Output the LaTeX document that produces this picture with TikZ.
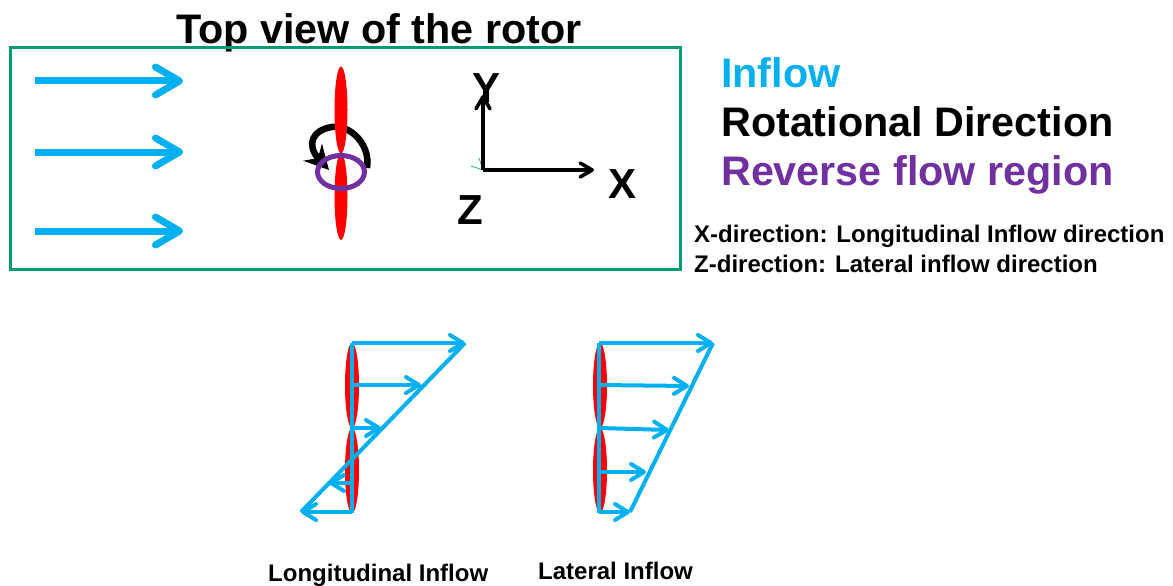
\documentclass[tikz,border=0pt]{standalone}
\usepackage{fontspec}
\setmainfont{Liberation Sans}
\usepackage{xcolor}
\usetikzlibrary{arrows.meta, positioning, shapes.geometric}
\definecolor{inflowblue}{RGB}{0,176,240}
\definecolor{regionpurple}{RGB}{112,48,160}
\definecolor{framegreen}{RGB}{0,155,115}

\begin{document}
\begin{tikzpicture}[
  x=1pt, y=-1pt,
  font=\bfseries,
  bigtext/.style={inner sep=0pt, anchor=base west, font=\fontsize{41.3}{42}\selectfont\bfseries},
  legend/.style={inner sep=0pt, anchor=base west, font=\fontsize{41.3}{42}\selectfont\bfseries},
  note/.style={inner sep=0pt, anchor=base west, font=\fontsize{24}{25}\selectfont\bfseries},
  axislabel/.style={inner sep=0pt, font=\fontsize{42}{42}\selectfont\bfseries},
  blade/.style={ellipse, fill=red, inner sep=0pt},
  inflowarr/.style={-{Straight Barb[round, length=24pt, width=28pt, line width=7pt]}, line width=7pt, inflowblue},
  profilearr/.style={-{Straight Barb[round, length=13pt, width=16pt, line width=4pt]}, line width=4pt, inflowblue},
  profileline/.style={line width=4pt, inflowblue},
  axisarr/.style={-{Straight Barb[round, length=12pt, width=14pt, line width=3.6pt]}, line width=3.6pt, black}
]
  \useasboundingbox (0,0) rectangle (1173,586);

  % top view
  \node[bigtext] (title) at (176,44) {Top view of the rotor};
  \node[draw=framegreen, line width=3.5pt, minimum width=670pt, minimum height=222pt, inner sep=0pt] (frame) at (345.5,158.5) {};

  \coordinate (inA) at (35,81);   \coordinate (inAend) at (183,81);
  \coordinate (inB) at (35,152);  \coordinate (inBend) at (183,152);
  \coordinate (inC) at (35,231);  \coordinate (inCend) at (183,231);
  \draw[inflowarr] (inA) -- (inAend);
  \draw[inflowarr] (inB) -- (inBend);
  \draw[inflowarr] (inC) -- (inCend);

  \coordinate (rotS) at (367,168);
  \coordinate (rotE) at (329,170);
  \draw[line width=6.5pt, -{Stealth[length=24pt, width=25pt]}] (rotS)
    .. controls (371,145) and (350,124) .. (332,127)
    .. controls (312,130) and (306,145) .. (rotE);
  \node[blade, minimum width=13pt, minimum height=87pt] (bladeN) at (341,110) {};
  \node[blade, minimum width=13pt, minimum height=87pt] (bladeS) at (341,196.5) {};
  \node[ellipse, draw=regionpurple, line width=5pt, minimum width=47pt, minimum height=33pt, inner sep=0pt] (region) at (341,172) {};

  % axes
  \coordinate (orig) at (483,170);
  \coordinate (xend) at (594,170);
  \coordinate (yend) at (483,95);
  \coordinate (tickA) at (471,166);
  \coordinate (tickB) at (479,158);
  \draw[framegreen!70!green, line width=0.7pt] (orig) -- (tickA) (orig) -- (tickB);
  \draw[axisarr] (orig) -- (xend);
  \draw[axisarr] (orig) -- (yend);
  \node[axislabel] (ylab) at (487,88) {Y};
  \node[axislabel] (xlab) at (622,184) {X};
  \node[axislabel] (zlab) at (470,210) {Z};

  % legend
  \node[legend, text=inflowblue] (lgA) at (721,88) {Inflow};
  \node[legend, text=black] (lgB) at (721,136) {Rotational Direction};
  \node[legend, text=regionpurple] (lgC) at (721,185) {Reverse flow region};
  \node[note] (noteX) at (694,242) {X-direction: Longitudinal Inflow direction};
  \node[note] (noteZ) at (694,272) {Z-direction: Lateral inflow direction};

  % longitudinal profile
  \node[blade, minimum width=14pt, minimum height=85pt] (lonN) at (352,385.5) {};
  \node[blade, minimum width=14pt, minimum height=85pt] (lonS) at (352,470.5) {};
  \coordinate (lonT) at (352,343);  \coordinate (lonB) at (352,513);
  \coordinate (lonA) at (352,343);  \coordinate (lonAend) at (465,343);
  \coordinate (lonC) at (352,385);  \coordinate (lonCend) at (421,385);
  \coordinate (lonD) at (352,428);  \coordinate (lonDend) at (381,428);
  \coordinate (lonE) at (352,483);  \coordinate (lonEend) at (329,483);
  \coordinate (lonF) at (352,512);  \coordinate (lonFend) at (301,512);
  \draw[profileline] (lonT) -- (lonB);
  \draw[profileline] (lonFend) -- (lonAend);
  \draw[profilearr] (lonA) -- (lonAend);
  \draw[profilearr] (lonC) -- (lonCend);
  \draw[profilearr] (lonD) -- (lonDend);
  \draw[profilearr] (lonE) -- (lonEend);
  \draw[profilearr] (lonF) -- (lonFend);

  % lateral profile
  \node[blade, minimum width=14pt, minimum height=85pt] (latN) at (600,385.5) {};
  \node[blade, minimum width=14pt, minimum height=85pt] (latS) at (600,470.5) {};
  \coordinate (latT) at (599,343);  \coordinate (latB) at (599,513);
  \coordinate (latA) at (599,343);  \coordinate (latAend) at (713,343);
  \coordinate (latC) at (599,385);  \coordinate (latCend) at (689,386);
  \coordinate (latD) at (599,428);  \coordinate (latDend) at (669,430);
  \coordinate (latE) at (599,472);  \coordinate (latEend) at (646,472);
  \coordinate (latF) at (599,512);  \coordinate (latFend) at (630,512);
  \draw[profileline] (latT) -- (latB);
  \draw[profileline] (latFend) -- (latAend);
  \draw[profilearr] (latA) -- (latAend);
  \draw[profilearr] (latC) -- (latCend);
  \draw[profilearr] (latD) -- (latDend);
  \draw[profilearr] (latE) -- (latEend);
  \draw[profilearr] (latF) -- (latFend);

  \node[note] (lonlab) at (268,581) {Longitudinal Inflow};
  \node[note] (latlab) at (538,579) {Lateral Inflow};
\end{tikzpicture}
\end{document}
